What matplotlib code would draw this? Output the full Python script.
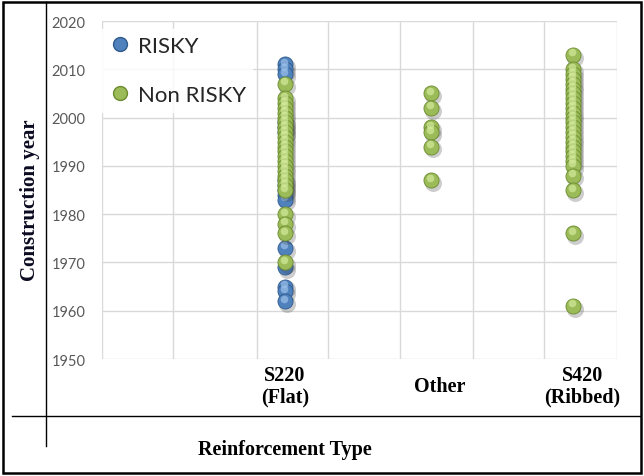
import matplotlib.pyplot as plt
import matplotlib.transforms as mtransforms
from matplotlib.lines import Line2D

# data
categories = ['S220\n(Flat)', 'Other', 'S420\n(Ribbed)']
cat_x = [2.56, 4.60, 6.58]          # where each group sits on the x axis
label_x = [2.56, 4.72, 6.72]        # where the group names sit

s220_risky = [2011, 2010, 2009, 1999, 1998, 1997, 1987, 1986, 1985, 1984, 1983,
              1973, 1969, 1965, 1964, 1962]
s220_nonrisky = [2007, 2004, 2003, 2002, 2001, 2000, 1999, 1998, 1997, 1996, 1995,
                 1994, 1993, 1992, 1991, 1990, 1989, 1988, 1987, 1986, 1985,
                 1980, 1978, 1976, 1970]
other_nonrisky = [2005, 2002, 1998, 1997, 1994, 1987]
s420_nonrisky = [2013, 2010, 2009, 2008, 2007, 2006, 2005, 2004, 2003, 2002, 2001,
                 2000, 1999, 1998, 1997, 1996, 1995, 1994, 1993, 1992, 1991, 1990,
                 1988, 1985, 1976, 1961]

yticks = [1950, 1960, 1970, 1980, 1990, 2000, 2010, 2020]
xgrid = [0, 0.99, 2.17, 3.16, 4.17, 5.19, 6.18, 7.2]

blue = ('#4F81BD', '#2f5a8c', '#9cc0ea')
green = ('#9BBB59', '#6b8a2e', '#d3ea9c')

fig = plt.figure(figsize=(6.44, 4.77), dpi=100)
ax = fig.add_axes([102 / 644, 117 / 477, 515 / 644, 338 / 477])


def balls(xs, ys, col, z):
    base, edge, hi = col
    sh = mtransforms.offset_copy(ax.transData, fig=fig, x=1.5, y=-2.0, units='points')
    ax.scatter(xs, ys, s=150, color='#3a3a3a', alpha=0.25, linewidths=0,
               transform=sh, zorder=z)
    ax.scatter(xs, ys, s=118, color=base, edgecolors=edge, linewidths=0.6, zorder=z + 0.1)
    hl = mtransforms.offset_copy(ax.transData, fig=fig, x=-0.6, y=1.8, units='points')
    ax.scatter(xs, ys, s=30, color=hi, alpha=0.7, linewidths=0,
               transform=hl, zorder=z + 0.2)


balls([cat_x[0]] * len(s220_risky), s220_risky, blue, 3)
balls([cat_x[0]] * len(s220_nonrisky), s220_nonrisky, green, 4)
balls([cat_x[1]] * len(other_nonrisky), other_nonrisky, green, 4)
balls([cat_x[2]] * len(s420_nonrisky), s420_nonrisky, green, 4)

ax.set_xlim(0, 7.2)
ax.set_ylim(1950, 2020)
ax.set_yticks(yticks)
ax.set_xticks([])
for v in yticks:
    ax.axhline(v, color='#d9d9d9', lw=1, zorder=1)
for v in xgrid:
    ax.axvline(v, color='#d9d9d9', lw=1, zorder=1)
for s in ax.spines.values():
    s.set_visible(False)
ax.tick_params(axis='y', length=0, pad=12, labelcolor='#595959', labelsize=10.5)
for t in ax.get_yticklabels():
    t.set_family('Lato')

for x, lab in zip(label_x, categories):
    ax.text(x, -0.08, lab, transform=ax.get_xaxis_transform(), ha='center', va='center',
            family='Liberation Serif', weight='bold', fontsize=14.5, linespacing=1.1)

fig.text(285 / 644, 1 - 450 / 477, 'Reinforcement Type', ha='center', va='center',
         family='Liberation Serif', weight='bold', fontsize=14.5)
fig.text(30 / 644, 1 - 200 / 477, 'Construction year', ha='center', va='center',
         rotation=90, family='Liberation Serif', weight='bold', fontsize=15, color='#0a0a20')

handles = [Line2D([], [], ls='', marker='o', ms=10, color=blue[0], mec=blue[1]),
           Line2D([], [], ls='', marker='o', ms=10, color=green[0], mec=green[1])]
leg = ax.legend(handles, ['RISKY', 'Non RISKY'], loc='upper left',
                bbox_to_anchor=(0.0, 0.975), frameon=True, fancybox=False,
                prop={'family': 'Lato', 'size': 16},
                labelspacing=1.3, handletextpad=0.3, handlelength=1.0,
                borderpad=0.3, borderaxespad=0.0)
leg.get_frame().set_facecolor('white')
leg.get_frame().set_edgecolor('white')
leg.set_zorder(5)
for t in leg.get_texts():
    t.set_color('#262626')

# table-like frame around the figure
fig.add_artist(plt.Rectangle((3 / 644, 3 / 477), 638 / 644, 471 / 477, fill=False,
                             lw=1.8, ec='black', transform=fig.transFigure))
fig.add_artist(Line2D([46 / 644, 46 / 644], [1 - 3 / 477, 1 - 447 / 477], lw=1, color='black'))
fig.add_artist(Line2D([12 / 644, 640 / 644], [1 - 417 / 477, 1 - 417 / 477], lw=1, color='black'))

fig.savefig('out.png', dpi=100)
